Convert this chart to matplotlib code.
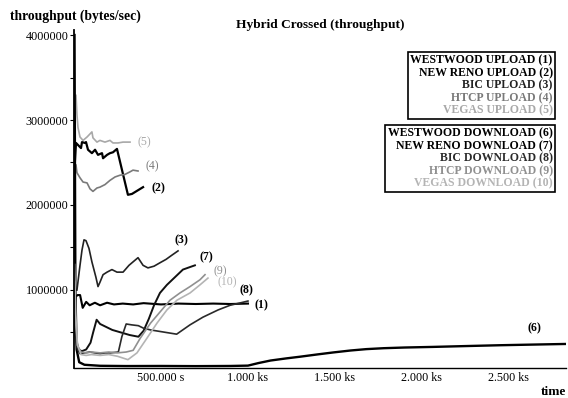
import matplotlib
matplotlib.use("Agg")
import matplotlib.pyplot as plt
from matplotlib.lines import Line2D
from matplotlib.ticker import FixedLocator, FuncFormatter

plt.rcParams['font.family'] = ['Liberation Serif', 'DejaVu Serif']

# time in seconds, throughput in bytes/sec
t_westwood_up = [3000, 10000, 20000, 35000, 50000, 70000, 90000, 120000, 150000, 190000, 230000,
                 280000, 340000, 400000, 500000, 600000, 700000, 800000, 900000, 1000000]
y_westwood_up = [800000, 920000, 940000, 940000, 790000, 860000, 820000, 850000, 820000, 850000, 830000,
                 840000, 830000, 845000, 830000, 840000, 835000, 840000, 835000, 840000]

t_newreno_up = [5700, 11500, 40200, 46000, 63200, 69000, 80500, 103000, 121000, 138000, 161000,
                167000, 190000, 207000, 224000, 247000, 310000, 333000, 397000]
y_newreno_up = [2530000, 2730000, 2670000, 2740000, 2730000, 2740000, 2650000, 2610000, 2650000, 2590000, 2610000,
                2550000, 2590000, 2610000, 2620000, 2660000, 2120000, 2130000, 2210000]

t_bic_up = [17000, 34500, 46000, 57500, 69000, 86000, 103000, 126000, 138000, 149000, 167000, 190000,
            218000, 247000, 282000, 316000, 339000, 368000, 397000, 425000, 460000, 494000, 529000,
            563000, 598000]
y_bic_up = [1000000, 1290000, 1470000, 1590000, 1580000, 1490000, 1330000, 1150000, 1040000, 1090000, 1180000, 1210000,
            1240000, 1210000, 1210000, 1290000, 1330000, 1380000, 1290000, 1260000, 1280000, 1320000, 1360000,
            1410000, 1460000]

t_htcp_up = [11500, 17000, 34500, 52000, 75000, 92000, 109000, 132000, 149000, 178000, 207000, 236000,
             264000, 293000, 322000, 339000, 368000]
y_htcp_up = [2470000, 2380000, 2320000, 2270000, 2260000, 2190000, 2160000, 2200000, 2210000, 2240000, 2290000, 2330000,
             2350000, 2360000, 2390000, 2410000, 2400000]

t_vegas_up = [11500, 17000, 23000, 34500, 52000, 75000, 103000, 109000, 132000, 149000, 178000, 207000,
              224000, 253000, 282000, 322000]
y_vegas_up = [3290000, 3060000, 2910000, 2800000, 2760000, 2800000, 2860000, 2790000, 2740000, 2760000, 2740000, 2760000,
              2730000, 2730000, 2740000, 2740000]

t_westwood_down = [3000, 8000, 15000, 30000, 60000, 150000, 300000, 500000, 700000, 900000, 1000000,
                   1060000, 1130000, 1220000, 1300000, 1400000, 1490000, 1590000, 1680000, 1780000,
                   1900000, 2060000, 2250000, 2450000, 2650000, 2830000]
y_westwood_down = [4000000, 1000000, 300000, 150000, 120000, 108000, 105000, 106000, 104000, 106000, 110000,
                   140000, 170000, 195000, 215000, 242000, 265000, 288000, 304000, 315000,
                   323000, 330000, 340000, 350000, 358000, 365000]

t_newreno_down = [3000, 10000, 25000, 45000, 70000, 95000, 110000, 130000, 150000, 180000, 220000, 270000,
                  320000, 370000, 400000, 430000, 460000, 494000, 534000, 580000, 626000, 667000, 695000]
y_newreno_down = [700000, 450000, 300000, 280000, 300000, 380000, 500000, 650000, 600000, 570000, 530000, 500000,
                  470000, 450000, 520000, 660000, 820000, 965000, 1060000, 1150000, 1240000, 1270000, 1290000]

t_bic_down = [3000, 10000, 20000, 35000, 60000, 90000, 120000, 150000, 180000, 210000, 255000, 275000,
              300000, 330000, 370000, 400000, 440000, 500000, 590000, 667000, 741000, 828000, 897000,
              960000, 1000000]
y_bic_down = [600000, 400000, 300000, 250000, 260000, 270000, 260000, 250000, 260000, 260000, 270000, 450000,
              600000, 590000, 580000, 550000, 530000, 510000, 480000, 590000, 680000, 765000, 820000,
              850000, 870000]

t_htcp_down = [3000, 10000, 20000, 40000, 70000, 100000, 150000, 200000, 250000, 300000, 340000, 380000,
               440000, 494000, 552000, 609000, 667000, 724000, 753000]
y_htcp_down = [1100000, 600000, 350000, 270000, 260000, 270000, 260000, 270000, 260000, 270000, 290000, 430000,
               610000, 740000, 880000, 965000, 1040000, 1120000, 1180000]

t_vegas_down = [3000, 10000, 20000, 40000, 70000, 100000, 150000, 200000, 250000, 310000, 362000, 420000,
                477000, 534000, 592000, 667000, 724000, 770000]
y_vegas_down = [1300000, 700000, 350000, 240000, 230000, 240000, 230000, 240000, 220000, 180000, 260000, 435000,
                610000, 765000, 880000, 965000, 1060000, 1140000]

upload_labels = ["WESTWOOD UPLOAD (1)", "NEW RENO UPLOAD (2)", "BIC UPLOAD (3)",
                 "HTCP UPLOAD (4)", "VEGAS UPLOAD (5)"]
download_labels = ["WESTWOOD DOWNLOAD (6)", "NEW RENO DOWNLOAD (7)", "BIC DOWNLOAD (8)",
                   "HTCP DOWNLOAD (9)", "VEGAS DOWNLOAD (10)"]
x_ticks = [500000, 1000000, 1500000, 2000000, 2500000]
x_tick_labels = ["500.000 s", "1.000 ks", "1.500 ks", "2.000 ks", "2.500 ks"]
y_ticks = [1000000, 2000000, 3000000, 4000000]

fig = plt.figure(figsize=(5.68, 3.98), dpi=100)
ax = fig.add_axes([74 / 568, 30 / 398, 492 / 568, 338 / 398])

series = [
    (t_westwood_up, y_westwood_up, "black", 1.5, "(1)", 1080000, 820000, "bold"),
    (t_newreno_up, y_newreno_up, "black", 1.6, "(2)", 483000, 2200000, "bold"),
    (t_bic_up, y_bic_up, "#222222", 1.2, "(3)", 620000, 1580000, "bold"),
    (t_htcp_up, y_htcp_up, "#7a7a7a", 1.2, "(4)", 448000, 2460000, "normal"),
    (t_vegas_up, y_vegas_up, "#a8a8a8", 1.2, "(5)", 402000, 2740000, "normal"),
    (t_westwood_down, y_westwood_down, "black", 1.7, "(6)", 2644000, 553000, "bold"),
    (t_newreno_down, y_newreno_down, "#111111", 1.4, "(7)", 759000, 1380000, "bold"),
    (t_bic_down, y_bic_down, "#2a2a2a", 1.2, "(8)", 994000, 1000000, "bold"),
    (t_htcp_down, y_htcp_down, "#909090", 1.2, "(9)", 839000, 1220000, "normal"),
    (t_vegas_down, y_vegas_down, "#b4b4b4", 1.2, "(10)", 879000, 1090000, "normal"),
]
for t, y, color, lw, tag, tx, ty, weight in series:
    ax.plot(t, y, color=color, lw=lw)
    ax.text(tx, ty, tag, color=color if weight == "normal" else "black", fontsize=8.5,
            fontweight=weight, ha="center", va="center")

ax.set_xlim(0, 2828000)
ax.set_ylim(82000, 4059000)

ax.spines['top'].set_visible(False)
ax.spines['right'].set_visible(False)
ax.spines['left'].set_linewidth(1.3)
ax.spines['bottom'].set_linewidth(1.0)

ax.xaxis.set_major_locator(FixedLocator(x_ticks))
ax.set_xticklabels(x_tick_labels)
ax.yaxis.set_major_locator(FixedLocator(y_ticks))
ax.yaxis.set_minor_locator(FixedLocator([500000, 1500000, 2500000, 3500000]))
ax.yaxis.set_major_formatter(FuncFormatter(lambda v, p: "%d" % v))
ax.tick_params(axis='x', length=0, pad=3, labelsize=8.7)
ax.tick_params(axis='y', which='both', length=3, width=0.8, pad=1, labelsize=8.7)

fig.text(10 / 568, 1 - 16 / 398, "throughput (bytes/sec)", fontsize=9.8, fontweight="bold",
         ha="left", va="center")
fig.text(320 / 568, 1 - 25 / 398, "Hybrid Crossed (throughput)", fontsize=9.6, fontweight="bold",
         ha="center", va="center")
fig.text(566 / 568, 1 - 392 / 398, "time", fontsize=9.6, fontweight="bold", ha="right", va="center")


def text_box(labels, colors, top):
    handles = [Line2D([], [], linestyle="none") for _ in labels]
    leg = ax.legend(handles, labels, loc="upper right", bbox_to_anchor=(555 / 568, 1 - top / 398),
                    bbox_transform=fig.transFigure, handlelength=0, handletextpad=0,
                    markerfirst=False, fancybox=False, framealpha=1, edgecolor="black",
                    borderpad=0.2, labelspacing=0.05, borderaxespad=0,
                    prop={"family": "Liberation Serif", "weight": "bold", "size": 8.5},
                    labelcolor=colors)
    leg.get_frame().set_linewidth(1.2)
    return leg


up_leg = text_box(upload_labels, ["black", "black", "#222222", "#7a7a7a", "#a8a8a8"], 52)
ax.add_artist(up_leg)
text_box(download_labels, ["black", "black", "#2a2a2a", "#909090", "#b4b4b4"], 125)

fig.savefig("out.png", dpi=100)
